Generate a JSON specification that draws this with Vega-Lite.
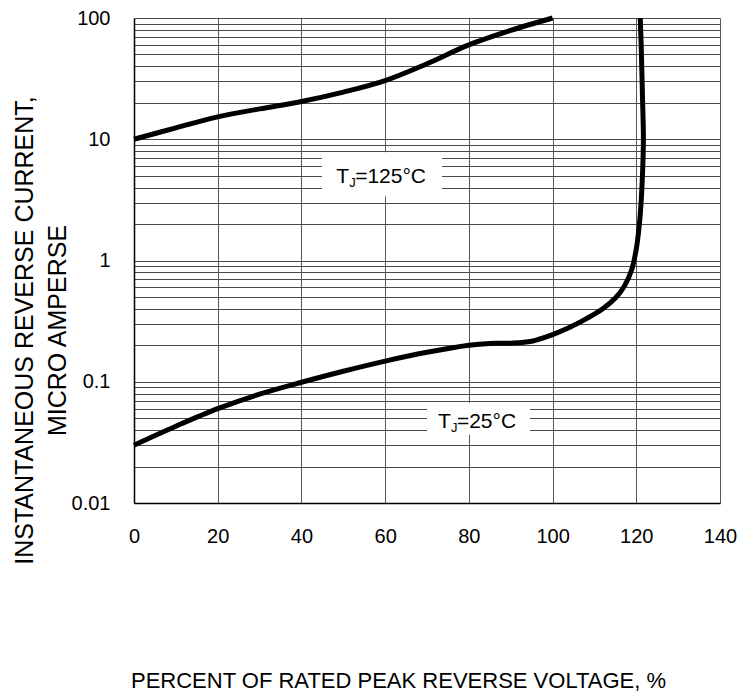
{
  "$schema": "https://vega.github.io/schema/vega-lite/v6.json",
  "autosize": {"type": "none"},
  "padding": {"left": 134, "top": 18, "right": 33, "bottom": 192},
  "width": 586,
  "height": 485,
  "background": "white",
  "config": {"view": {"stroke": null}},
  "datasets": {
    "curves": [
      {"s": "125", "i": 0, "x": 0, "y": 10},
      {"s": "125", "i": 1, "x": 10, "y": 12.4},
      {"s": "125", "i": 2, "x": 20, "y": 15.3},
      {"s": "125", "i": 3, "x": 30, "y": 17.8},
      {"s": "125", "i": 4, "x": 40, "y": 20.5},
      {"s": "125", "i": 5, "x": 50, "y": 24.5},
      {"s": "125", "i": 6, "x": 60, "y": 30.5},
      {"s": "125", "i": 7, "x": 70, "y": 42},
      {"s": "125", "i": 8, "x": 80, "y": 60},
      {"s": "125", "i": 9, "x": 90, "y": 79},
      {"s": "125", "i": 10, "x": 100, "y": 100},
      {"s": "25", "i": 0, "x": 0, "y": 0.030},
      {"s": "25", "i": 1, "x": 10, "y": 0.043},
      {"s": "25", "i": 2, "x": 20, "y": 0.060},
      {"s": "25", "i": 3, "x": 30, "y": 0.079},
      {"s": "25", "i": 4, "x": 40, "y": 0.099},
      {"s": "25", "i": 5, "x": 50, "y": 0.122},
      {"s": "25", "i": 6, "x": 60, "y": 0.148},
      {"s": "25", "i": 7, "x": 70, "y": 0.175},
      {"s": "25", "i": 8, "x": 80, "y": 0.200},
      {"s": "25", "i": 9, "x": 85, "y": 0.207},
      {"s": "25", "i": 10, "x": 90, "y": 0.208},
      {"s": "25", "i": 11, "x": 95, "y": 0.216},
      {"s": "25", "i": 12, "x": 100, "y": 0.245},
      {"s": "25", "i": 13, "x": 104, "y": 0.28},
      {"s": "25", "i": 14, "x": 108, "y": 0.33},
      {"s": "25", "i": 15, "x": 112, "y": 0.40},
      {"s": "25", "i": 16, "x": 115, "y": 0.49},
      {"s": "25", "i": 17, "x": 117.2, "y": 0.62},
      {"s": "25", "i": 18, "x": 118.9, "y": 0.84},
      {"s": "25", "i": 19, "x": 120.1, "y": 1.31},
      {"s": "25", "i": 20, "x": 120.9, "y": 2.3},
      {"s": "25", "i": 21, "x": 121.4, "y": 4.4},
      {"s": "25", "i": 22, "x": 121.7, "y": 10},
      {"s": "25", "i": 23, "x": 121.5, "y": 21},
      {"s": "25", "i": 24, "x": 121.2, "y": 55},
      {"s": "25", "i": 25, "x": 120.95, "y": 100}
    ],
    "labels": [
      {"t": "=125°C", "tx": 48.3, "ty": 4.85, "x0": 44.9, "x1": 73.6, "y0": 3.38, "y1": 7.8},
      {"t": "=25°C", "tx": 72.6, "ty": 0.0467, "x0": 70, "x1": 94.6, "y0": 0.0365, "y1": 0.067}
    ]
  },
  "layer": [
    {
      "data": {"name": "curves"},
      "mark": {"type": "line", "color": "black", "strokeWidth": 5, "strokeJoin": "round", "strokeCap": "butt", "interpolate": "catmull-rom"},
      "encoding": {
        "x": {
          "field": "x", "type": "quantitative",
          "scale": {"domain": [0, 140], "nice": false, "zero": false},
          "axis": {
            "values": [0, 20, 40, 60, 80, 100, 120, 140],
            "grid": true, "gridColor": "#5a5a5a", "gridWidth": 1,
            "ticks": false, "domainColor": "black", "domainWidth": 1.5,
            "labelFont": "Liberation Sans", "labelFontSize": 20, "labelColor": "black",
            "labelPadding": 23, "labelFlush": false,
            "title": "PERCENT OF RATED PEAK REVERSE VOLTAGE, %",
            "titleFont": "Liberation Sans", "titleFontSize": 22, "titleFontWeight": "normal",
            "titleColor": "black", "titleX": 264, "titleY": 177, "titleAlign": "center", "titleBaseline": "middle"
          }
        },
        "y": {
          "field": "y", "type": "quantitative",
          "scale": {"type": "log", "domain": [0.01, 100], "nice": false},
          "axis": {
            "values": [0.01, 0.02, 0.03, 0.04, 0.05, 0.06, 0.07, 0.08, 0.09,
                       0.1, 0.2, 0.3, 0.4, 0.5, 0.6, 0.7, 0.8, 0.9,
                       1, 2, 3, 4, 5, 6, 7, 8, 9,
                       10, 20, 30, 40, 50, 60, 70, 80, 90, 100],
            "format": "~g",
            "labelExpr": "(datum.value == 0.01 || datum.value == 0.1 || datum.value == 1 || datum.value == 10 || datum.value == 100) ? datum.label : ''",
            "labelOverlap": false, "labelBound": false,
            "grid": true, "gridColor": "#4a4a4a", "gridWidth": 1,
            "ticks": false, "domainColor": "black", "domainWidth": 1.5,
            "labelFont": "Liberation Sans", "labelFontSize": 20, "labelColor": "black",
            "labelPadding": 24,
            "title": ["INSTANTANEOUS REVERSE CURRENT,", "MICRO AMPERSE"],
            "titleFont": "Liberation Sans", "titleFontSize": 25, "titleFontWeight": "normal",
            "titleColor": "black", "titleAngle": -90, "titleX": -110, "titleY": 312,
            "titleAlign": "center", "titleBaseline": "middle", "titleLineHeight": 33
          }
        },
        "detail": {"field": "s"},
        "order": {"field": "i", "type": "quantitative"}
      }
    },
    {
      "data": {"name": "labels"},
      "mark": {"type": "rect", "fill": "white"},
      "encoding": {
        "x": {"field": "x0", "type": "quantitative"},
        "x2": {"field": "x1"},
        "y": {"field": "y0", "type": "quantitative"},
        "y2": {"field": "y1"}
      }
    },
    {
      "data": {"name": "labels"},
      "mark": {"type": "text", "text": "T", "align": "left", "baseline": "middle", "font": "Liberation Sans", "fontSize": 21, "color": "black"},
      "encoding": {
        "x": {"field": "tx", "type": "quantitative"},
        "y": {"field": "ty", "type": "quantitative"}
      }
    },
    {
      "data": {"name": "labels"},
      "mark": {"type": "text", "text": "J", "align": "left", "baseline": "middle", "font": "Liberation Sans", "fontSize": 13, "dx": 13, "dy": 6, "color": "black"},
      "encoding": {
        "x": {"field": "tx", "type": "quantitative"},
        "y": {"field": "ty", "type": "quantitative"}
      }
    },
    {
      "data": {"name": "labels"},
      "mark": {"type": "text", "align": "left", "baseline": "middle", "font": "Liberation Sans", "fontSize": 21, "dx": 19, "color": "black"},
      "encoding": {
        "x": {"field": "tx", "type": "quantitative"},
        "y": {"field": "ty", "type": "quantitative"},
        "text": {"field": "t"}
      }
    }
  ]
}
